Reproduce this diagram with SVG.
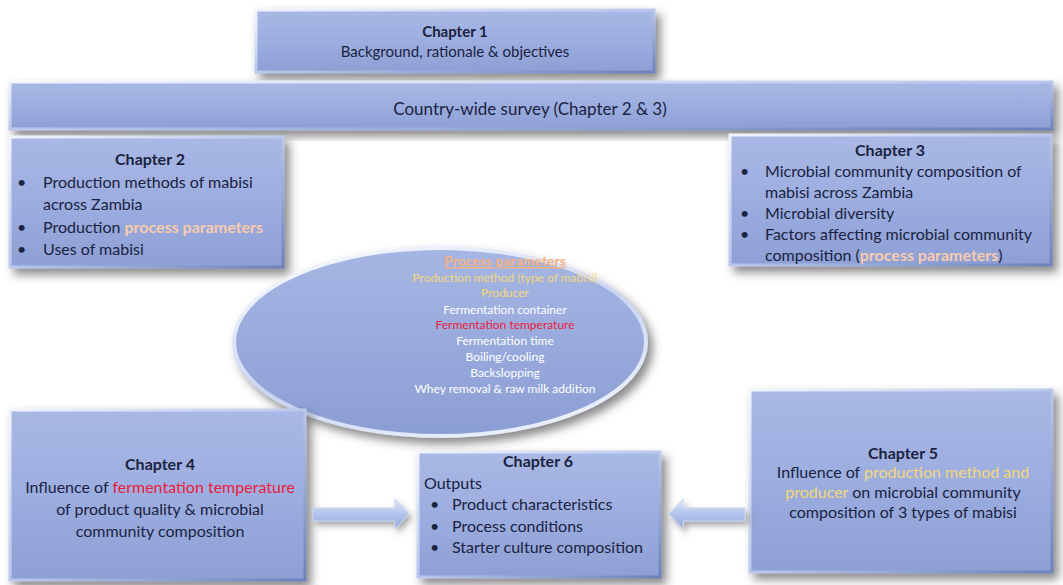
<svg xmlns="http://www.w3.org/2000/svg" width="1063" height="585" viewBox="0 0 1063 585">
  <defs>
    <linearGradient id="boxFill" x1="0" y1="0" x2="0" y2="1">
      <stop offset="0" stop-color="#a9b8e4"/>
      <stop offset="0.5" stop-color="#9cade0"/>
      <stop offset="1" stop-color="#8d9fd4"/>
    </linearGradient>
    <linearGradient id="rim" x1="0" y1="0" x2="1" y2="1">
      <stop offset="0" stop-color="#f2f5fd"/>
      <stop offset="0.5" stop-color="#bac7ec"/>
      <stop offset="1" stop-color="#6e81b9"/>
    </linearGradient>
    <linearGradient id="ellFill" x1="0" y1="0" x2="0" y2="1">
      <stop offset="0" stop-color="#a6b6e4"/>
      <stop offset="1" stop-color="#8b9ed4"/>
    </linearGradient>
    <linearGradient id="ellRim" x1="0" y1="0" x2="0.6" y2="1">
      <stop offset="0" stop-color="#ffffff"/>
      <stop offset="0.6" stop-color="#c9d4f2"/>
      <stop offset="1" stop-color="#e8eefb"/>
    </linearGradient>
    <linearGradient id="arrowFill" x1="0" y1="0" x2="0" y2="1">
      <stop offset="0" stop-color="#e3eafa"/>
      <stop offset="0.5" stop-color="#b3c3ec"/>
      <stop offset="1" stop-color="#95a9dc"/>
    </linearGradient>
    <filter id="shadow" x="-10%" y="-10%" width="125%" height="135%">
      <feDropShadow dx="5" dy="6" stdDeviation="5" flood-color="#3a3a3a" flood-opacity="0.6"/>
    </filter>
    <filter id="softShadow" x="-10%" y="-20%" width="125%" height="150%">
      <feDropShadow dx="3" dy="4" stdDeviation="3" flood-color="#505050" flood-opacity="0.5"/>
    </filter>
  </defs>
  <style>
    .box { fill: url(#boxFill); stroke: url(#rim); stroke-width: 3; filter: url(#shadow); }
    text { font-family: Lato, "Liberation Sans", sans-serif; fill: #1b2340; }
    .t { font-size: 16px; }
    .c { text-anchor: middle; }
    .b { font-weight: bold; }
    .peach { fill: #f8cbad; font-weight: bold; }
    .red { fill: #ee1c3a; }
    .yel { fill: #f3d77a; }
    .pt { font-size: 12px; fill: #ffffff; text-anchor: middle; }
  </style>

  <rect width="1063" height="585" fill="#ffffff"/>

  <!-- Chapter 1 -->
  <g id="ch1">
    <rect class="box" x="256" y="10" width="398" height="62"/>
    <text class="c b" x="455" y="37" font-size="15">Chapter 1</text>
    <text class="c" x="455" y="57" font-size="15">Background, rationale &amp; objectives</text>
  </g>

  <!-- Country-wide survey banner -->
  <g id="survey">
    <rect class="box" x="10" y="82" width="1042" height="47"/>
    <text class="c" x="530" y="115" font-size="17">Country-wide survey  (Chapter 2 &amp; 3)</text>
  </g>

  <!-- Chapter 2 -->
  <g id="ch2">
    <rect class="box" x="10" y="137" width="273" height="130"/>
    <text class="t c b" x="150" y="165">Chapter 2</text>
    <text class="t" x="17" y="188">•</text>
    <text class="t" x="43" y="188">Production methods of mabisi</text>
    <text class="t" x="43" y="210">across Zambia</text>
    <text class="t" x="17" y="233">•</text>
    <text class="t" x="43" y="233">Production <tspan class="peach">process parameters</tspan></text>
    <text class="t" x="17" y="255">•</text>
    <text class="t" x="43" y="255">Uses of mabisi</text>
  </g>

  <!-- Chapter 3 -->
  <g id="ch3">
    <rect class="box" x="730" y="135" width="321" height="130"/>
    <text class="t c b" x="890" y="156">Chapter 3</text>
    <text class="t" x="740" y="177">•</text>
    <text class="t" x="765" y="177">Microbial community composition of</text>
    <text class="t" x="765" y="198">mabisi across Zambia</text>
    <text class="t" x="740" y="219">•</text>
    <text class="t" x="765" y="219">Microbial diversity</text>
    <text class="t" x="740" y="240">•</text>
    <text class="t" x="765" y="240">Factors affecting microbial community</text>
    <text class="t" x="765" y="261">composition (<tspan class="peach">process parameters</tspan>)</text>
  </g>

  <!-- Process parameters ellipse -->
  <g id="params">
    <ellipse cx="440" cy="342" rx="206" ry="94" fill="url(#ellFill)" stroke="url(#ellRim)" stroke-width="4" filter="url(#shadow)"/>
    <text x="505" y="266" font-size="14" class="c b" style="fill:#f4b183" text-decoration="underline">Process parameters</text>
    <text class="pt" x="505" y="282" style="fill:#f3d77a">Production method (type of mabisi)</text>
    <text class="pt" x="505" y="297" style="fill:#f3d77a">Producer</text>
    <text class="pt" x="505" y="314">Fermentation container</text>
    <text class="pt" x="505" y="329" style="fill:#ee1c3a">Fermentation temperature</text>
    <text class="pt" x="505" y="345">Fermentation time</text>
    <text class="pt" x="505" y="361">Boiling/cooling</text>
    <text class="pt" x="505" y="377">Backslopping</text>
    <text class="pt" x="505" y="393">Whey removal &amp; raw milk addition</text>
  </g>

  <!-- Chapter 4 -->
  <g id="ch4">
    <rect class="box" x="10" y="410" width="295" height="170"/>
    <text class="t c b" x="160" y="470">Chapter 4</text>
    <text class="t c" x="160" y="493">Influence of <tspan class="red">fermentation temperature</tspan></text>
    <text class="t c" x="160" y="515">of product quality &amp; microbial</text>
    <text class="t c" x="160" y="537">community composition</text>
  </g>

  <!-- Chapter 6 -->
  <g id="ch6">
    <rect class="box" x="418" y="452" width="242" height="125"/>
    <text class="t c b" x="538" y="467">Chapter 6</text>
    <text class="t" x="424" y="489">Outputs</text>
    <text class="t" x="430" y="510">•</text>
    <text class="t" x="452" y="510">Product characteristics</text>
    <text class="t" x="430" y="532">•</text>
    <text class="t" x="452" y="532">Process conditions</text>
    <text class="t" x="430" y="553">•</text>
    <text class="t" x="452" y="553">Starter culture composition</text>
  </g>

  <!-- Chapter 5 -->
  <g id="ch5">
    <rect class="box" x="750" y="390" width="302" height="182"/>
    <text class="t c b" x="903" y="459">Chapter 5</text>
    <text class="t c" x="903" y="478">Influence of <tspan class="yel">production method and</tspan></text>
    <text class="t c" x="903" y="498"><tspan class="yel">producer</tspan> on microbial community</text>
    <text class="t c" x="903" y="518">composition of 3 types of mabisi</text>
  </g>

  <!-- Connectors: block arrows into Chapter 6 -->
  <g id="connectors">
    <polygon points="313,508 395,508 395,499 409,514 395,529 395,521 313,521" fill="url(#arrowFill)" stroke="#c8d4f2" stroke-width="1" filter="url(#softShadow)"/>
    <polygon points="745,508 683,508 683,499 669,514 683,529 683,521 745,521" fill="url(#arrowFill)" stroke="#c8d4f2" stroke-width="1" filter="url(#softShadow)"/>
  </g>
</svg>
